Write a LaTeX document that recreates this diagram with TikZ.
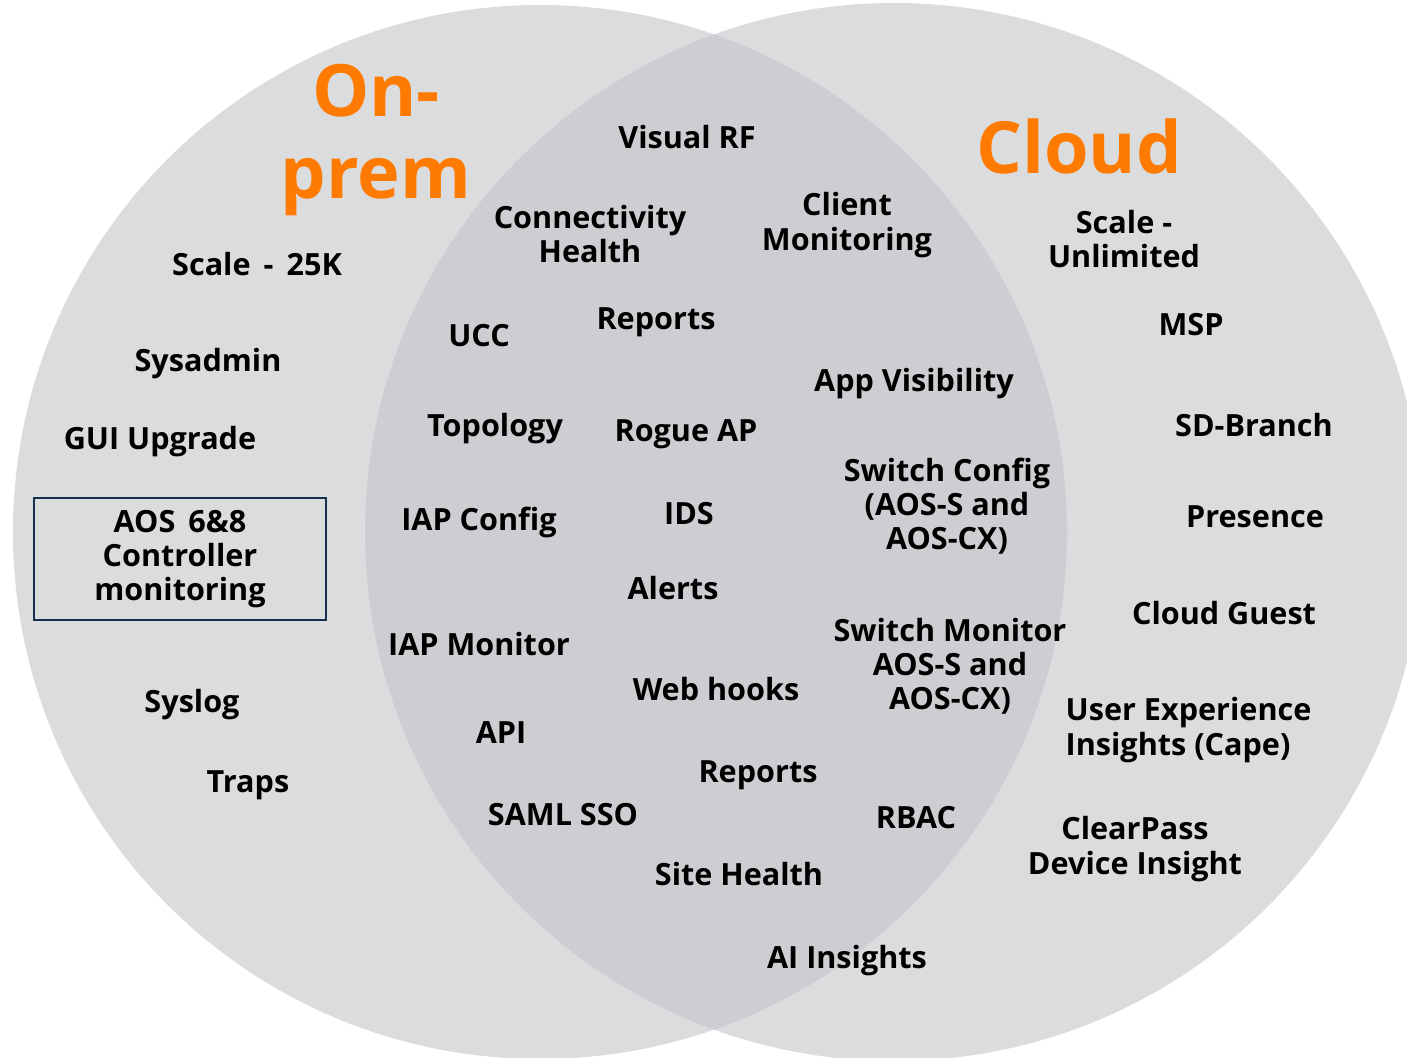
\documentclass[tikz,border=0pt]{standalone}
\usepackage{fontspec}
\setmainfont{Open Sans}
\usetikzlibrary{positioning}
\definecolor{vennfill}{RGB}{219,220,222}
\definecolor{venncore}{RGB}{205,206,209}
\definecolor{hpeorange}{RGB}{255,122,0}
\definecolor{boxline}{RGB}{22,48,82}
\tikzset{
	item/.style={font=\bfseries\fontsize{8.7}{9.7}\selectfont,align=center,inner sep=0pt},
	itemleft/.style={item,align=left},
	title/.style={font=\bfseries\fontsize{20.5}{23.3}\selectfont,text=hpeorange,align=center,inner sep=0pt},
	framed/.style={item,draw=boxline,line width=0.6pt,minimum width=2.92cm,minimum height=1.22cm}
}

\begin{document}
\begin{tikzpicture}[x=0.01cm,y=-0.01cm]
\useasboundingbox (0,0) rectangle (1407,1057);

% the two sets
\fill[vennfill] (540,532) circle (527);
\fill[vennfill] (894,532) circle (529);
\begin{scope}
\clip (540,532) circle (527);
\fill[venncore] (894,532) circle (529);
\end{scope}

% on-prem only
\node[title] (onprem) at (376,140) {On-\\prem};
\node[item] (scale25k) at (257,264) {Scale\, -\, 25K};
\node[item] (sysadmin) at (208,364) {Sysadmin};
\node[item] (guiupg) at (160,442) {GUI Upgrade};
\node[framed] (aosbox) at (180,559) {AOS\, 6\&8\\Controller\\monitoring};
\node[item] (syslog) at (192,705) {Syslog};
\node[item] (traps) at (248,785) {Traps};

% both
\node[item] (visualrf) at (687,137) {Visual RF};
\node[item] (connhealth) at (590,234) {Connectivity\\Health};
\node[item] (clientmon) at (847,225) {Client\\Monitoring};
\node[item] (ucc) at (479,336) {UCC};
\node[item] (reportsa) at (656,322) {Reports};
\node[item] (appvis) at (914,384) {App Visibility};
\node[item] (topology) at (495,429) {Topology};
\node[item] (rogueap) at (686,434) {Rogue AP};
\node[item] (swconfig) at (947,506) {Switch Config\\(AOS-S and\\AOS-CX)};
\node[item] (iapconfig) at (479,522) {IAP Config};
\node[item] (ids) at (689,514) {IDS};
\node[item] (alerts) at (673,588) {Alerts};
\node[item] (swmonitor) at (950,666) {Switch Monitor\\AOS-S and\\AOS-CX)};
\node[item] (iapmonitor) at (479,644) {IAP Monitor};
\node[item] (webhooks) at (716,689) {Web hooks};
\node[item] (api) at (501,733) {API};
\node[item] (reportsb) at (758,775) {Reports};
\node[item] (samlsso) at (563,815) {SAML SSO};
\node[item] (rbac) at (916,818) {RBAC};
\node[item] (sitehealth) at (739,874) {Site Health};
\node[item] (aiinsights) at (847,961) {AI Insights};

% cloud only
\node[title] (cloud) at (1079,146) {Cloud};
\node[item] (scaleunl) at (1124,239) {Scale -\\Unlimited};
\node[item] (msp) at (1191,325) {MSP};
\node[item] (sdbranch) at (1254,425) {SD-Branch};
\node[item] (presence) at (1255,517) {Presence};
\node[item] (cloudguest) at (1224,613) {Cloud Guest};
\node[itemleft,anchor=west] (userexp) at (1065,730) {User Experience\\Insights (Cape)};
\node[item] (clearpass) at (1135,849) {ClearPass\\Device Insight};
\end{tikzpicture}
\end{document}
